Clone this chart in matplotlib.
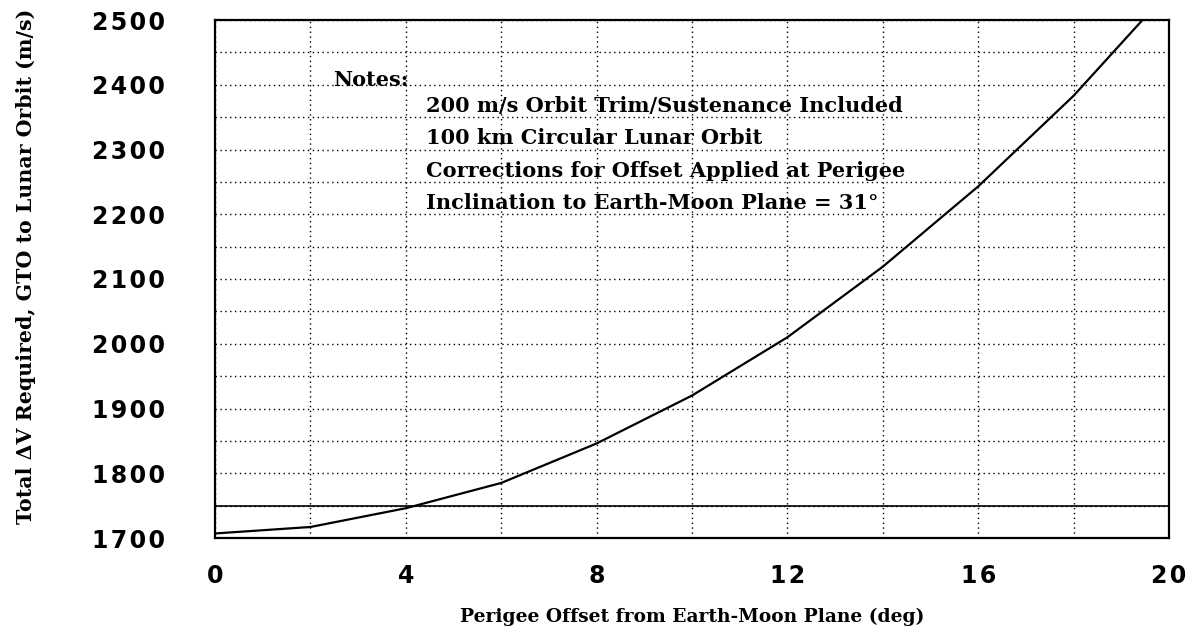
import numpy as np
import matplotlib.pyplot as plt

# data
offset_deg = [0, 2, 4, 6, 8, 10, 12, 14, 16, 18, 20]
delta_v = [1707, 1717, 1746, 1785, 1846, 1920, 2010, 2119, 2243, 2383, 2545]
ref_level = 1750

xticks = [0, 4, 8, 12, 16, 20]
yticks = [1700, 1800, 1900, 2000, 2100, 2200, 2300, 2400, 2500]
notes = ["200 m/s Orbit Trim/Sustenance Included",
         "100 km Circular Lunar Orbit",
         "Corrections for Offset Applied at Perigee",
         "Inclination to Earth-Moon Plane = 31\u00b0"]

GAP = "\u200a"  # spread the digits a little, like the original
def spaced(s):
    return GAP.join(str(s))

fig = plt.figure(figsize=(11.92, 6.38), dpi=100)
ax = fig.add_axes([215/1192, 1 - 538/638, (1169-215)/1192, (538-20)/638])

ax.plot(offset_deg, delta_v, color='black', lw=1.6, clip_on=True)
ax.axhline(ref_level, color='black', lw=1.2)

ax.set_xlim(0, 20)
ax.set_ylim(1700, 2500)
ax.set_xticks(xticks)
ax.set_xticks([2, 6, 10, 14, 18], minor=True)
ax.set_xticklabels([spaced(t) for t in xticks])
ax.set_yticks(yticks)
ax.set_yticks(np.arange(1750, 2500, 100), minor=True)
ax.set_yticklabels([spaced(t) for t in yticks])
for lab in ax.get_xticklabels() + ax.get_yticklabels():
    lab.set_fontsize(17)
    lab.set_fontweight('bold')
    lab.set_family('DejaVu Sans')
ax.tick_params(which='both', length=0)
ax.tick_params(axis='x', pad=19)
ax.tick_params(axis='y', pad=36)
ax.grid(True, which='both', color='black', linestyle=(0, (1, 2.5)), lw=1.0)
for s in ax.spines.values():
    s.set_linewidth(1.6)

# notes, placed against the grid like the original
ax.text(2.47, 2398, "Notes:", family='DejaVu Serif',
        fontweight='bold', fontsize=15, va='baseline')
for i, line in enumerate(notes):
    ax.text(4.42, 2358 - 50*i, line, family='DejaVu Serif',
            fontweight='bold', fontsize=15, va='baseline')

fig.text(692/1192, 1 - 617/638, "Perigee Offset from Earth-Moon Plane (deg)",
         family='DejaVu Serif', fontweight='bold', fontsize=13.4,
         ha='center', va='center')
fig.text(26/1192, 1 - 266/638, "Total \u0394V Required, GTO to Lunar Orbit (m/s)",
         family='DejaVu Serif', fontweight='bold', fontsize=14.8,
         ha='center', va='center', rotation=90)

fig.savefig("out.png", dpi=100)
